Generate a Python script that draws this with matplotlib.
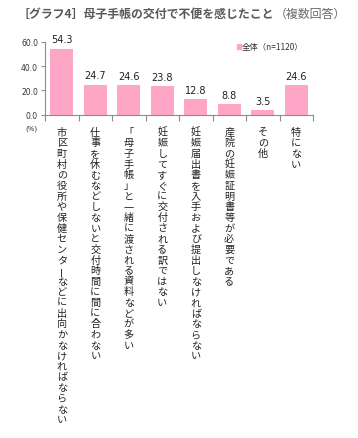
import matplotlib
matplotlib.use("Agg")
import matplotlib.pyplot as plt
import numpy as np

categories = [
    "市区町村の役所や保健センターなどに出向かなければならない",
    "仕事を休むなどしないと交付時間に間に合わない",
    "「母子手帳」と一緒に渡される資料などが多い",
    "妊娠してすぐに交付される訳ではない",
    "妊娠届出書を入手および提出しなければならない",
    "産院の妊娠証明書等が必要である",
    "その他",
    "特にない",
]
values = [54.3, 24.7, 24.6, 23.8, 12.8, 8.8, 3.5, 24.6]
yticks = [0, 20, 40, 60]
series_name = "全体（n=1120）"
title_main = "［グラフ4］母子手帳の交付で不便を感じたこと"
title_sub = "（複数回答）"

JP = ["Noto Sans CJK JP", "DejaVu Sans"]
plt.rcParams["font.family"] = JP

W, H = 358, 439
fig = plt.figure(figsize=(W / 100, H / 100), dpi=100)
ax = fig.add_axes([45 / W, 1 - 115.7 / H, (313 - 45) / W, (115.7 - 42.7) / H])

bar_color = "#FFA6C6"
axis_color = "#8c8c8c"
x = np.arange(len(categories))
ax.bar(x, values, width=0.68, color=bar_color, zorder=2)
ax.set_xlim(-0.5, len(categories) - 0.5)
ax.set_ylim(0, 60)
ax.set_yticks(yticks)
ax.set_yticklabels([f"{v:.1f}" for v in yticks], fontsize=5.5, color="#333333",
                   family=["DejaVu Sans"])
ax.set_xticks(np.arange(len(categories) + 1) - 0.5)
ax.set_xticklabels([])
ax.tick_params(axis="x", length=4, color=axis_color, width=0.8)
ax.tick_params(axis="y", length=3, color=axis_color, width=0.8, pad=2)
for s in ["top", "right"]:
    ax.spines[s].set_visible(False)
for s in ["left", "bottom"]:
    ax.spines[s].set_color(axis_color)
    ax.spines[s].set_linewidth(0.8)

# value labels
for xi, v in zip(x, values):
    ax.annotate(f"{v:.1f}", xy=(xi, v), xytext=(0, 3), textcoords="offset points",
                ha="center", va="bottom", fontsize=7, color="#222222",
                family=["DejaVu Sans"])

# vertical category labels
pitch_pt = 10.65 * 72 / 100
start_pt = 12 * 72 / 100
for xi, lab in zip(x, categories):
    for k, ch in enumerate(lab):
        if ch == "ー":
            ax.annotate(ch, xy=(xi, 0), xycoords=("data", "axes fraction"),
                        xytext=(0, -(start_pt + k * pitch_pt + pitch_pt / 2 - 0.5)),
                        textcoords="offset points", rotation=90,
                        ha="center", va="center", fontsize=7.3, color="#222222")
        else:
            ax.annotate(ch, xy=(xi, 0), xycoords=("data", "axes fraction"),
                        xytext=(0, -(start_pt + k * pitch_pt)), textcoords="offset points",
                        ha="center", va="top", fontsize=7.3, color="#222222")

# (%) label
fig.text(31 / W, 1 - 129 / H, "(%)", fontsize=5, color="#333333", ha="center", va="center",
         family=["DejaVu Sans"])

# legend
fig.patches.append(plt.Rectangle((236.5 / W, 1 - 50 / H), 4.5 / W, 5 / H,
                                 transform=fig.transFigure, color=bar_color))
fig.text(242 / W, 1 - 47.5 / H, series_name, fontsize=6, color="#333333", va="center")

# title
t1 = fig.text(18 / W, 1 - 14 / H, title_main, fontsize=8.6, color="#595959",
              fontweight="bold", va="center")
fig.canvas.draw()
bb = t1.get_window_extent()
fig.text(bb.x1 / W, 1 - 14 / H, title_sub, fontsize=8.6, color="#6a6a6a", va="center")

fig.savefig("out.png", dpi=100)
